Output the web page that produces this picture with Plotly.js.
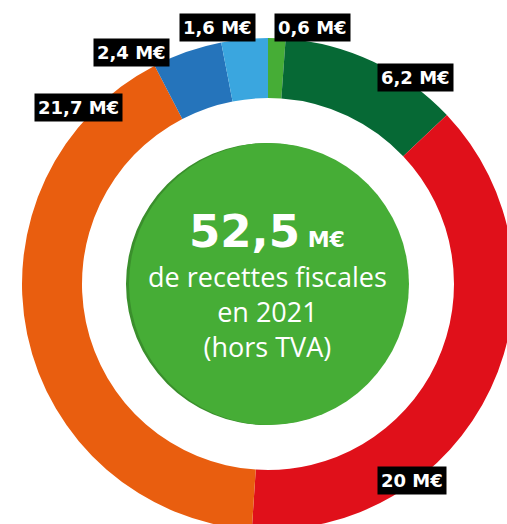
<!DOCTYPE html>
<html>
<head>
<meta charset="utf-8">
<script src="https://cdn.plot.ly/plotly-3.0.1.min.js"></script>
<style>
html, body { margin: 0; padding: 0; overflow: hidden; background: #fff; }
#chart { width: 530px; height: 540px; }
</style>
</head>
<body>
<div id="chart"></div>
<script>
// Data (millions of euros), clockwise from 12 o'clock
const categories = ["Catégorie A", "Catégorie B", "Catégorie C", "Catégorie D", "Catégorie E", "Catégorie F"];
const values = [0.6, 6.2, 20, 21.7, 2.4, 1.6];
const valueLabels = ["0,6 M€", "6,2 M€", "20 M€", "21,7 M€", "2,4 M€", "1,6 M€"];
const sliceColors = ["#46ad36", "#066935", "#e0101a", "#e95e0f", "#2574bb", "#3aa6df"];
const totalLabel = "52,5";

const W = 530, H = 540;
const px = x => x / W;
const py = y => 1 - y / H;

const cx = 268, cy = 284, R = 246, rIn = 141;

// label positions (pixel centres)
const labelPos = [[312, 28], [415, 77], [412, 480], [78, 108], [131, 53], [217, 28]];

const annotations = valueLabels.map((t, i) => ({
  x: px(labelPos[i][0]), y: py(labelPos[i][1]), xref: 'paper', yref: 'paper',
  xanchor: 'center', yanchor: 'middle', showarrow: false,
  text: '<b>' + t + '</b>',
  font: { family: 'DejaVu Sans, sans-serif', size: 18, color: '#ffffff' },
  bgcolor: '#000000', borderpad: 3
}));

annotations.push({
  x: px(cx - 1), y: py(231), xref: 'paper', yref: 'paper', xanchor: 'center', yanchor: 'middle',
  showarrow: false,
  text: "<b><span style='font-size:45px'>" + totalLabel + "</span> <span style='font-size:22px'>M€</span></b>",
  font: { family: 'DejaVu Sans, sans-serif', size: 22, color: '#ffffff' }
});
annotations.push({
  x: px(cx - 1), y: py(311), xref: 'paper', yref: 'paper', xanchor: 'center', yanchor: 'middle',
  showarrow: false,
  text: "de recettes fiscales<br>en 2021<br>(hors TVA)",
  font: { family: 'Open Sans, sans-serif', size: 27, color: '#ffffff' }
});

const trace = {
  type: 'pie',
  labels: categories,
  values: values,
  sort: false,
  direction: 'clockwise',
  rotation: 0,
  hole: 186 / 246,
  textinfo: 'none',
  hoverinfo: 'label+value',
  marker: { colors: sliceColors, line: { width: 0 } },
  domain: { x: [px(cx - R), px(cx + R)], y: [py(cy + R), py(cy - R)] },
  showlegend: false
};

const layout = {
  width: W, height: H,
  margin: { l: 0, r: 0, t: 0, b: 0 },
  paper_bgcolor: '#ffffff',
  showlegend: false,
  shapes: [
    { type: 'circle', xref: 'paper', yref: 'paper', layer: 'above',
      x0: px(cx - rIn - 1), x1: px(cx + rIn - 2), y0: py(cy + rIn), y1: py(cy - rIn),
      fillcolor: '#3a8f2c', line: { width: 0 } },
    { type: 'circle', xref: 'paper', yref: 'paper', layer: 'above',
      x0: px(cx - rIn + 2), x1: px(cx + rIn), y0: py(cy + rIn), y1: py(cy - rIn),
      fillcolor: '#46ad36', line: { width: 0 } }
  ],
  annotations: annotations
};

Plotly.newPlot('chart', [trace], layout, { displayModeBar: false, staticPlot: true });
</script>
</body>
</html>
